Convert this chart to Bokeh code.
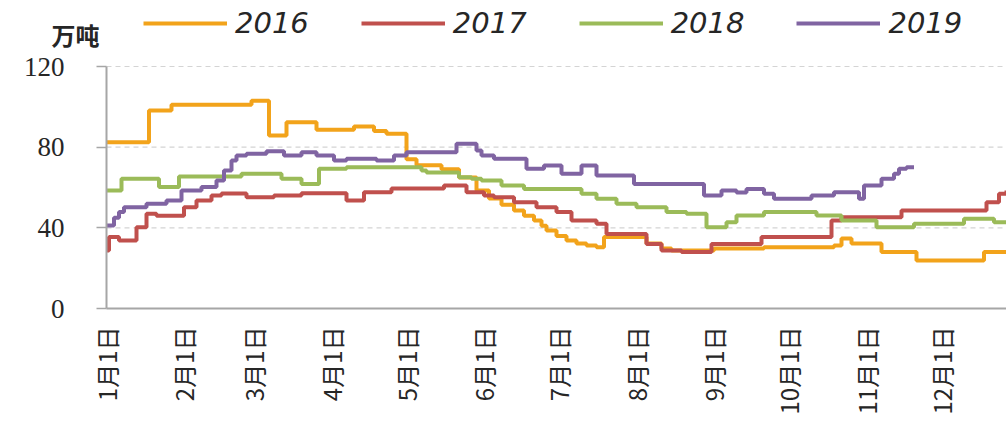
import math
from bokeh.plotting import figure
from bokeh.models import Range1d, FixedTicker, Legend, LegendItem, Label
from bokeh.embed import file_html
from bokeh.resources import INLINE

month_labels = ["1月1日", "2月1日", "3月1日", "4月1日", "5月1日", "6月1日",
                "7月1日", "8月1日", "9月1日", "10月1日", "11月1日", "12月1日"]
month_days = [0, 31, 59, 90, 120, 151, 181, 212, 243, 273, 304, 334]
y_ticks = [0, 40, 80, 120]

series_names = ["2016", "2017", "2018", "2019"]
series_colors = ["#F2A31B", "#C0504D", "#9BBB59", "#8064A2"]

days16 = [0, 17, 26, 58, 65, 72, 84, 99, 107, 112, 120, 124, 134, 141, 148, 153, 158, 163, 167, 171,
          174, 176, 180, 184, 188, 192, 196, 199, 216, 222, 226, 243, 263, 291, 294, 298, 310, 324, 351, 360]
vals16 = [82.5, 98.2, 101, 103, 85.8, 92.4, 88.6, 90.2, 88, 86.7, 74, 71, 69, 65, 58.5, 54.5, 51.5, 48.6, 46, 43.6,
          41, 38.7, 36, 33.7, 32.2, 31.2, 30.4, 35.4, 32.2, 29.7, 28.8, 29.7, 30.4, 31.2, 34.7, 32.2, 28, 23.8, 28, 28]

days17 = [0, 1, 5, 12, 16, 20, 31, 36, 42, 46, 56, 67, 78, 96, 103, 114, 135, 144, 151, 155,
          163, 172, 180, 186, 196, 200, 216, 222, 230, 242, 262, 290, 294, 318, 352, 357, 360]
vals17 = [28.8, 35.4, 33.7, 40.3, 47, 46, 50.2, 53.5, 56, 57, 55.2, 56, 57.2, 53.5, 57.7, 59.5, 61, 57.7, 56, 55.2,
          52.7, 50.2, 47.8, 43.6, 42, 37, 32, 28.8, 28, 32, 35.4, 43.6, 45.3, 48.6, 52.7, 56.9, 58.5]

days18 = [0, 6, 21, 29, 54, 70, 78, 85, 96, 126, 128, 141, 146, 150, 158, 167, 190, 196, 204, 212,
          224, 232, 240, 248, 252, 263, 284, 294, 308, 323, 343, 355, 360]
vals18 = [58.5, 64.3, 60.2, 65.5, 66.8, 64.3, 61.8, 69.3, 70.1, 68.4, 67.5, 65.1, 64.3, 63.5, 61, 59.3, 56.9, 54.4, 51.9, 50.2,
          47.8, 47, 40.3, 42.8, 46.1, 47.8, 46.1, 43.6, 40.3, 42, 44.5, 42.8, 42.8]

days19 = [0, 3, 5, 7, 16, 24, 30, 38, 44, 47, 50, 52, 56, 64, 71, 78, 84, 91, 96, 108,
          115, 120, 140, 148, 150, 155, 168, 175, 182, 190, 196, 211, 239, 246, 252, 256, 263, 267, 282, 291,
          301, 303, 310, 315, 317, 320, 323]
vals19 = [41.2, 45, 47.8, 50.2, 51.9, 53.5, 58.5, 60.2, 63.5, 68.4, 73.4, 75.9, 76.7, 78, 75.9, 77.5, 75.9, 73.4, 74.2, 73.4,
          75.9, 77.5, 81.7, 78.3, 75.9, 74.2, 69.3, 70.9, 66.8, 70.9, 66, 61.8, 56, 58.5, 57.5, 59.3, 56.9, 54.4, 56, 57.7,
          54.4, 61, 64.3, 66.8, 69.3, 70, 70]

X_END = 360
# frame covers the whole canvas; axes are pinned at 0 inside it
p = figure(width=1006, height=428, output_backend="svg", toolbar_location=None,
           x_range=Range1d(-42.4, X_END), y_range=Range1d(-59.5, 152.73),
           min_border_left=0, min_border_right=0, min_border_top=0, min_border_bottom=0)
p.outline_line_color = None
p.background_fill_color = "white"
p.border_fill_color = "white"
p.xgrid.visible = False
p.ygrid.visible = False

# dashed horizontal grid lines, starting at the y axis
grid_vals = y_ticks[1:]
p.segment(x0=[0] * len(grid_vals), y0=grid_vals, x1=[X_END] * len(grid_vals), y1=grid_vals,
          line_color="#D4D4D4", line_dash="5 4", line_width=1.2)

# y axis
p.yaxis.fixed_location = 0
p.yaxis.bounds = (0, 120)
p.yaxis.ticker = FixedTicker(ticks=y_ticks)
p.yaxis.axis_line_color = "#A6A6A6"
p.yaxis.axis_line_width = 2
p.yaxis.major_tick_line_color = "#A6A6A6"
p.yaxis.major_tick_line_width = 1.5
p.yaxis.major_tick_out = 10
p.yaxis.major_tick_in = 0
p.yaxis.minor_tick_line_color = None
p.yaxis.major_label_standoff = 32
p.yaxis.major_label_text_font = "Liberation Serif"
p.yaxis.major_label_text_font_size = "27px"
p.yaxis.major_label_text_color = "#262626"

# x axis
p.xaxis.fixed_location = 0
p.xaxis.bounds = (0, X_END)
p.xaxis.ticker = FixedTicker(ticks=month_days)
p.xaxis.major_label_overrides = {d: lab for d, lab in zip(month_days, month_labels)}
p.xaxis.major_label_orientation = math.pi / 2
p.xaxis.axis_line_color = "#A6A6A6"
p.xaxis.axis_line_width = 2
p.xaxis.major_tick_line_color = None
p.xaxis.major_tick_out = 0
p.xaxis.major_tick_in = 0
p.xaxis.minor_tick_line_color = None
p.xaxis.major_label_standoff = 18
p.xaxis.major_label_text_font = "Noto Sans CJK SC"
p.xaxis.major_label_text_font_size = "24px"
p.xaxis.major_label_text_color = "#262626"

all_days = [days16, days17, days18, days19]
all_vals = [vals16, vals17, vals18, vals19]
items = []
for name, color, d, v in zip(series_names, series_colors, all_days, all_vals):
    r = p.step(d, v, mode="after", line_color=color, line_width=4)
    items.append(LegendItem(label=name, renderers=[r]))

legend = Legend(items=items, orientation="horizontal", location=(143, 388),
                glyph_width=84, glyph_height=20, label_standoff=8, spacing=52,
                padding=0, margin=0, border_line_color=None, background_fill_alpha=0,
                label_text_font="DejaVu Sans", label_text_font_style="italic",
                label_text_font_size="29px", label_text_color="#262626")
p.add_layout(legend)

unit = Label(x=75, y=394, x_units="screen", y_units="screen", text="万吨",
             text_align="center", text_baseline="middle",
             text_font="Noto Sans CJK SC", text_font_size="24px", text_font_style="bold",
             text_color="#262626")
p.add_layout(unit)

open("out.html", "w").write(file_html(p, INLINE))
